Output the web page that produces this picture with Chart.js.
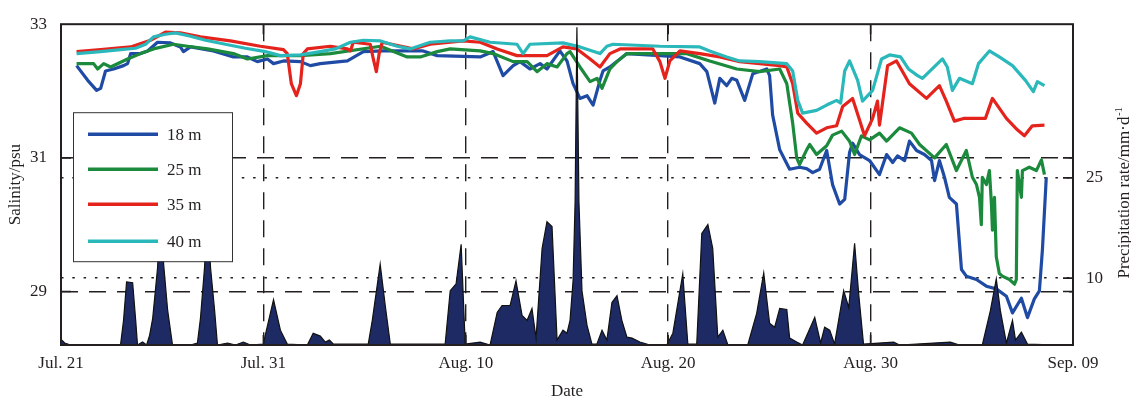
<!DOCTYPE html>
<html>
<head>
<meta charset="utf-8">
<script src="https://cdn.jsdelivr.net/npm/chart.js@4.4.1/dist/chart.umd.min.js"></script>
<style>html,body{margin:0;padding:0;background:#fff;}canvas{display:block;}</style>
</head>
<body>
<canvas id="c" width="1131" height="400"></canvas>
<script>
// ---------- axis ticks ----------
const xTickDays = [0, 10, 20, 30, 40, 50];
const xTickLabels = ['Jul. 21', 'Jul. 31', 'Aug. 10', 'Aug. 20', 'Aug. 30', 'Sep. 09'];
const salinityTicks = [29, 31, 33];
const precipTicks = [10, 25];
const seriesLabels = ['18 m', '25 m', '35 m', '40 m'];

// ---------- 18 m ----------
const days18 = [0.77,1.32,1.76,1.96,2.20,2.60,3.09,3.29,3.44,3.93,4.28,4.77,5.41,5.90,6.05,6.40,7.53,8.52,9.21,9.70,10.20,10.50,10.99,11.83,12.32,12.81,14.15,14.94,15.92,17.89,18.59,20.71,21.35,21.84,22.34,22.68,23.17,23.67,24.01,24.65,25.00,25.30,25.64,25.99,26.29,26.63,26.78,27.12,27.62,27.96,29.59,30.58,31.56,31.91,32.30,32.55,32.89,33.14,33.39,33.78,34.18,34.87,35.01,35.16,35.51,36.00,36.49,36.84,37.14,37.48,37.83,38.12,38.47,38.72,38.96,39.11,39.45,39.95,40.44,40.79,41.09,41.33,41.68,41.92,42.27,42.66,43.01,43.16,43.40,43.65,43.89,44.24,44.49,44.73,45.23,45.72,46.21,46.71,47.01,47.45,47.75,48.09,48.34,48.49,48.68];
const sal18 = [32.38,32.16,32.01,32.04,32.30,32.33,32.38,32.41,32.56,32.56,32.60,32.73,32.72,32.66,32.59,32.66,32.60,32.51,32.51,32.44,32.48,32.41,32.45,32.44,32.38,32.41,32.45,32.59,32.60,32.60,32.53,32.51,32.59,32.23,32.38,32.44,32.33,32.41,32.33,32.60,32.45,32.11,31.89,31.93,31.79,32.16,32.30,32.36,32.48,32.56,32.53,32.51,32.41,32.29,31.82,32.19,32.08,32.19,32.16,31.86,32.26,32.33,32.23,31.64,31.12,30.83,30.86,30.84,30.78,30.83,31.11,30.60,30.31,30.38,31.08,31.22,31.05,30.96,30.75,31.05,30.93,31.03,30.96,31.25,31.11,31.05,30.96,30.66,30.96,30.71,30.41,30.31,29.33,29.23,29.18,29.08,29.04,28.93,28.68,28.90,28.61,28.89,29.01,29.63,30.71];

// ---------- 25 m ----------
const days25 = [0.77,1.61,1.81,2.11,2.45,3.29,3.93,4.57,5.56,6.25,7.24,8.52,9.21,10.20,11.83,13.31,15.79,17.10,17.75,18.59,19.23,20.71,21.35,22.34,23.03,23.52,24.01,24.51,25.00,25.15,25.64,26.14,26.48,26.73,27.12,27.47,27.96,29.59,30.92,32.05,33.39,34.52,35.51,35.86,36.00,36.15,36.35,36.49,36.84,36.99,37.33,37.83,38.12,38.57,38.96,39.21,39.55,39.95,40.44,40.79,41.43,42.02,42.42,43.16,43.74,44.24,44.73,45.03,45.23,45.38,45.47,45.52,45.72,45.87,45.97,46.02,46.12,46.21,46.36,46.51,46.86,47.11,47.20,47.25,47.45,47.50,47.84,48.19,48.44,48.59];
const sal25 = [32.41,32.41,32.33,32.41,32.36,32.48,32.56,32.63,32.70,32.67,32.63,32.56,32.48,32.53,32.53,32.56,32.67,32.51,32.51,32.59,32.63,32.60,32.56,32.44,32.44,32.29,32.41,32.36,32.56,32.59,32.36,32.14,32.19,32.04,32.33,32.44,32.56,32.56,32.56,32.45,32.33,32.29,32.33,32.11,31.82,31.52,31.00,30.90,31.12,31.20,31.05,31.18,31.34,31.40,31.25,31.05,31.33,31.27,31.37,31.25,31.45,31.37,31.20,31.00,31.20,30.81,31.11,30.71,30.60,30.41,30.00,30.71,30.60,30.81,30.31,29.92,30.41,29.52,29.27,29.23,29.18,29.11,29.18,30.81,30.41,30.81,30.86,30.81,30.97,30.75];

// ---------- 35 m ----------
const days35 = [0.77,1.96,3.44,4.42,5.16,5.90,6.89,8.37,9.85,10.99,11.18,11.38,11.63,11.83,11.97,12.17,13.31,14.15,14.30,14.44,15.28,15.43,15.58,15.72,15.87,17.40,18.24,19.87,20.71,21.55,22.53,24.01,24.80,25.49,26.14,26.63,27.12,27.62,29.24,29.59,29.84,30.08,30.58,31.56,32.55,33.53,35.51,35.86,36.15,36.40,36.84,37.33,37.83,38.32,38.62,39.11,39.45,39.70,40.10,40.34,40.44,40.84,41.28,41.92,42.76,43.40,43.74,44.14,44.59,45.23,45.67,46.02,46.71,47.25,47.60,47.99,48.59];
const sal35 = [32.59,32.62,32.66,32.76,32.88,32.87,32.81,32.75,32.67,32.62,32.56,32.11,31.93,32.11,32.56,32.63,32.67,32.63,32.60,32.73,32.70,32.48,32.29,32.56,32.73,32.63,32.70,32.75,32.73,32.63,32.53,32.53,32.66,32.63,32.48,32.36,32.56,32.63,32.63,32.44,32.19,32.45,32.60,32.56,32.51,32.44,32.38,32.36,32.11,31.67,31.52,31.37,31.45,31.48,31.77,31.89,31.57,31.33,31.59,31.85,31.49,32.38,32.45,32.11,31.89,32.08,31.85,31.55,31.59,31.59,31.59,31.89,31.59,31.42,31.33,31.48,31.49];

// ---------- 40 m ----------
const days40 = [0.77,1.96,2.94,3.68,4.18,4.57,5.16,5.66,6.40,7.14,8.12,9.11,10.10,10.84,11.83,12.81,13.55,14.30,14.94,15.79,16.61,17.25,18.24,19.23,19.87,20.21,21.20,22.53,22.83,23.17,24.80,25.64,26.63,26.97,27.27,29.59,31.56,32.05,32.89,33.53,34.52,35.86,36.15,36.40,36.64,37.33,37.83,38.32,38.52,38.72,38.96,39.36,39.60,40.10,40.54,40.94,41.48,41.87,42.32,42.56,43.55,43.79,44.04,44.39,45.03,45.33,45.87,46.36,47.01,47.65,48.04,48.24,48.59];
const sal40 = [32.56,32.59,32.62,32.64,32.70,32.81,32.85,32.87,32.82,32.76,32.70,32.64,32.59,32.53,32.54,32.59,32.63,32.73,32.76,32.75,32.67,32.63,32.73,32.75,32.75,32.81,32.73,32.70,32.56,32.70,32.72,32.66,32.56,32.67,32.70,32.67,32.66,32.60,32.51,32.45,32.44,32.41,32.30,31.86,31.67,31.71,31.79,31.86,31.82,32.30,32.45,32.16,31.85,32.01,32.48,32.54,32.51,32.33,32.23,32.19,32.48,32.36,32.01,32.19,32.11,32.41,32.60,32.51,32.38,32.16,31.99,32.14,32.08];

// ---------- precipitation rate (mm/d) ----------
const precipDays = [0.03,0.18,0.48,2.94,3.09,3.24,3.54,3.69,3.78,4.03,4.23,4.38,4.53,4.77,4.92,5.07,5.27,5.51,6.40,6.74,6.89,7.09,7.24,7.39,7.59,7.73,8.23,8.62,9.01,9.36,10.00,10.15,10.50,10.84,11.18,12.17,12.46,12.81,13.06,13.26,13.45,15.18,15.38,15.77,16.02,16.27,18.98,19.23,19.52,19.77,19.97,20.71,21.20,21.55,21.79,22.19,22.48,22.78,23.03,23.27,23.47,23.77,24.01,24.26,24.51,24.80,25.00,25.15,25.30,25.40,25.49,25.59,25.74,25.99,26.23,26.48,26.73,26.97,27.22,27.47,27.71,27.96,28.21,28.60,29.10,29.93,30.23,30.72,30.97,31.41,31.66,31.96,32.20,32.45,32.70,32.95,33.93,34.37,34.72,35.01,35.26,35.51,35.86,36.00,36.35,36.64,37.24,37.53,37.73,37.98,38.22,38.67,38.92,39.21,39.41,39.65,41.14,41.43,43.94,44.39,45.52,45.92,46.21,46.41,46.71,47.01,47.16,47.45,47.75,49.23];
const precipRate = [0.74,0.30,0,0,3.69,9.45,9.31,3.69,0,0.44,0,1.48,3.99,11.52,20.0,12.11,5.17,0,0,0.30,3.99,11.52,19.5,11.52,5.17,0,0.30,0,0.44,0,0.15,2.22,6.79,2.22,0.15,0,1.77,1.33,0.44,0.74,0.15,0.15,3.69,12.11,5.91,0.15,0.15,8.12,9.16,15.07,0.15,0.44,0,4.87,5.91,5.91,9.60,4.43,3.69,5.47,1.03,14.48,18.46,17.73,0.74,2.22,1.77,3.69,9.60,21.42,47.56,21.42,8.12,2.95,0.15,0.15,2.22,0.74,6.35,7.39,3.69,1.18,1.03,0.44,0,0,1.77,10.64,0.15,0.15,16.69,18.02,14.48,1.18,2.22,0,0,4.73,10.78,3.25,2.66,5.47,5.32,1.03,0.44,0,4.14,0.30,2.66,2.22,0.15,8.12,5.61,15.21,7.68,0.15,0.44,0,0.44,0,0,5.17,9.90,5.17,0.30,3.69,0.74,1.92,0.15,0];

// ---------- styling ----------
const FONT = "'Liberation Serif','Times New Roman',serif";
const INK = '#231f20';
Chart.defaults.font.family = FONT;
Chart.defaults.font.size = 17;
Chart.defaults.color = INK;

const pts = (d, v) => d.slice(0, Math.min(d.length, v.length)).map((x, i) => ({ x, y: v[i] }));

const decor = {
  id: 'decor',
  afterDatasetsDraw(chart) {
    const { ctx, chartArea: a, scales } = chart;
    ctx.save();
    ctx.strokeStyle = INK;
    ctx.lineWidth = 1.6;
    const T = 10;
    ctx.beginPath();
    xTickDays.forEach(v => {
      if (v <= 0 || v >= 50) return;
      const px = scales.x.getPixelForValue(v);
      ctx.moveTo(px, a.bottom); ctx.lineTo(px, a.bottom - T);
      ctx.moveTo(px, a.top); ctx.lineTo(px, a.top + T);
    });
    salinityTicks.forEach(v => {
      if (v >= 33) return;
      const py = scales.y.getPixelForValue(v);
      ctx.moveTo(a.left, py); ctx.lineTo(a.left + T, py);
      ctx.moveTo(a.right, py); ctx.lineTo(a.right - T, py);
    });
    precipTicks.forEach(v => {
      const py = scales.y2.getPixelForValue(v);
      ctx.moveTo(a.right, py); ctx.lineTo(a.right - T, py);
    });
    ctx.stroke();
    ctx.lineWidth = 2;
    ctx.strokeRect(a.left, a.top, a.right - a.left, a.bottom - a.top);
    ctx.restore();
  },
  afterDraw(chart) {
    const { ctx, chartArea: a } = chart;
    // legend
    ctx.save();
    const bx = a.left + 12, by = a.top + 88, bw = 159, bh = 149;
    ctx.fillStyle = '#fff';
    ctx.fillRect(bx, by, bw, bh);
    ctx.strokeStyle = '#333';
    ctx.lineWidth = 1;
    ctx.strokeRect(bx + 0.5, by + 0.5, bw, bh);
    const rows = [22, 57, 92, 129];
    const ds = chart.data.datasets.slice(1);
    ds.forEach((d, i) => {
      const y = by + rows[i];
      ctx.strokeStyle = d.borderColor;
      ctx.lineWidth = 3.4;
      ctx.beginPath();
      ctx.moveTo(bx + 15, y); ctx.lineTo(bx + 85, y);
      ctx.stroke();
      ctx.fillStyle = INK;
      ctx.font = '17px ' + FONT;
      ctx.textAlign = 'left';
      ctx.textBaseline = 'middle';
      ctx.fillText(d.label, bx + 94, y + 1);
    });
    ctx.restore();
    // right axis title (reads bottom to top)
    ctx.save();
    ctx.translate(1123, 193);
    ctx.rotate(-Math.PI / 2);
    ctx.fillStyle = INK;
    const main = 'Precipitation rate/mm·d';
    const sup = '-1';
    ctx.font = '11px ' + FONT;
    const sw = ctx.measureText(sup).width;
    ctx.font = '17px ' + FONT;
    const mw = ctx.measureText(main).width;
    const start = -(mw + sw) / 2;
    ctx.textAlign = 'left';
    ctx.textBaseline = 'alphabetic';
    ctx.fillText(main, start, 6);
    ctx.font = '11px ' + FONT;
    ctx.fillText(sup, start + mw + 0.5, -1);
    ctx.restore();
  }
};

const DASH = [17, 11];
const DOT = [2.5, 8.8];
const LW = 3.2;

new Chart(document.getElementById('c'), {
  type: 'line',
  data: {
    datasets: [
      { label: 'Precipitation rate', data: pts(precipDays, precipRate), yAxisID: 'y2',
        borderColor: '#111', borderWidth: 1.2, backgroundColor: '#1d2a64', fill: 'origin',
        pointRadius: 0, tension: 0, order: 0 },
      { label: seriesLabels[0], data: pts(days18, sal18), yAxisID: 'y', borderColor: '#1f4ba5',
        borderWidth: LW, pointRadius: 0, fill: false, tension: 0, order: 4, borderJoinStyle: 'round' },
      { label: seriesLabels[1], data: pts(days25, sal25), yAxisID: 'y', borderColor: '#1b8a3c',
        borderWidth: LW, pointRadius: 0, fill: false, tension: 0, order: 3, borderJoinStyle: 'round' },
      { label: seriesLabels[2], data: pts(days35, sal35), yAxisID: 'y', borderColor: '#e5231d',
        borderWidth: LW, pointRadius: 0, fill: false, tension: 0, order: 2, borderJoinStyle: 'round' },
      { label: seriesLabels[3], data: pts(days40, sal40), yAxisID: 'y', borderColor: '#2bb8bb',
        borderWidth: LW, pointRadius: 0, fill: false, tension: 0, order: 1, borderJoinStyle: 'round' }
    ]
  },
  options: {
    responsive: false,
    animation: false,
    devicePixelRatio: 1,
    events: [],
    layout: { padding: { top: 20, left: 0, right: 0, bottom: 0 } },
    plugins: { legend: { display: false }, tooltip: { enabled: false } },
    scales: {
      x: {
        type: 'linear', min: 0, max: 50, position: 'bottom',
        afterBuildTicks: s => { s.ticks = xTickDays.map(v => ({ value: v })); },
        afterFit: s => { s.height = 55; },
        ticks: { autoSkip: false, maxRotation: 0, padding: 8, color: INK,
                 callback: v => { const i = xTickDays.indexOf(v); return i >= 0 ? xTickLabels[i] : ''; } },
        grid: { drawTicks: false, lineWidth: 1.4, borderDash: DASH,
                color: c => (c.tick && (c.tick.value <= 0 || c.tick.value >= 50)) ? 'rgba(0,0,0,0)' : INK },
        border: { display: false, dash: DASH },
        title: { display: true, text: 'Date', color: INK, font: { size: 17, lineHeight: 1 }, padding: { top: 0, bottom: 0 } }
      },
      y: {
        position: 'left', min: 28.2, max: 33,
        afterBuildTicks: s => { s.ticks = salinityTicks.map(v => ({ value: v })); },
        afterFit: s => { s.width = 61; },
        ticks: { padding: 14, color: INK },
        grid: { drawTicks: false, lineWidth: 1.4, borderDash: DASH,
                color: c => (c.tick && c.tick.value >= 33) ? 'rgba(0,0,0,0)' : INK },
        border: { display: false, dash: DASH },
        title: { display: true, text: 'Salinity/psu', color: INK, font: { size: 17 }, padding: { top: 5, bottom: 0 } }
      },
      y2: {
        position: 'right', min: 0, max: 48,
        afterBuildTicks: s => { s.ticks = precipTicks.map(v => ({ value: v })); },
        afterFit: s => { s.width = 58; },
        ticks: { padding: 13, color: INK },
        grid: { drawTicks: false, lineWidth: 1.6, borderDash: DOT, color: INK },
        border: { display: false, dash: DOT }
      }
    }
  },
  plugins: [decor]
});
</script>
</body>
</html>
